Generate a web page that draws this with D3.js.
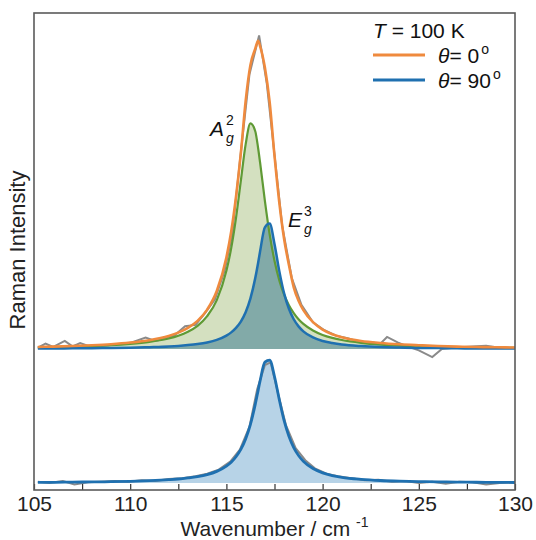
<!DOCTYPE html>
<html><head><meta charset="utf-8">
<script src="https://cdn.jsdelivr.net/npm/d3@7"></script>
<style>
body{margin:0;background:#fff;}
svg{display:block;font-family:"Liberation Sans",Arial,sans-serif;}
</style></head>
<body><svg id="c" width="536" height="540"></svg>
<script>
// wavenumber grid (cm^-1) for fitted curves
const wn = [105.2,106,107,108,109,110,111,112,112.5,113,113.5,114,114.5,115,115.25,115.5,115.75,116,116.25,116.5,116.65,116.75,117,117.25,117.5,117.75,118,118.25,118.5,118.75,119,119.5,120,120.5,121,122,123,124,125,126,127,128,129,130];
// theta = 0 : A_g^2 component fit
const fitA = [.012,.014,.017,.022,.028,.038,.053,.078,.099,.129,.173,.245,.365,.583,.753,.979,1.254,1.527,1.683,1.625,1.498,1.392,1.106,.854,.658,.512,.406,.327,.268,.222,.187,.138,.105,.083,.067,.046,.033,.025,.020,.016,.013,.011,.009,.008];
// theta = 0 : E_g^3 component fit
const fitE = [.004,.004,.005,.006,.008,.010,.014,.019,.023,.029,.037,.049,.068,.100,.124,.158,.205,.275,.378,.529,.644,.727,.908,.936,.784,.581,.415,.300,.222,.169,.132,.086,.060,.045,.034,.022,.015,.011,.008,.007,.005,.004,.004,.003];
// theta = 0 : total fit
const fitTotal = [.015,.018,.022,.028,.036,.048,.066,.097,.122,.158,.210,.294,.433,.683,.877,1.137,1.459,1.85,2.12,2.24,2.30,2.26,2.10,1.84,1.442,1.093,.821,.627,.46,.36,.29,.20,.145,.11,.088,.06,.045,.035,.028,.022,.018,.015,.013,.011];
// theta = 90 : E_g^3 fit
const fit90 = [.005,.005,.007,.008,.010,.013,.018,.025,.030,.038,.048,.063,.087,.126,.155,.196,.251,.329,.438,.587,.691,.761,.902,.917,.795,.621,.465,.348,.264,.205,.162,.108,.076,.056,.043,.028,.019,.014,.011,.009,.007,.006,.005,.004];
// raw spectra
const raw0X = [105.2,105.6,106.0,106.6,107.0,107.4,107.9,108.6,109.3,110.0,110.8,111.3,111.9,112.3,112.85,113.4,113.9,114.4,114.9,115.3,115.7,116.2,116.7,117.1,117.5,117.9,118.4,118.9,119.5,120.1,120.7,121.3,121.9,122.5,123.0,123.35,123.9,124.4,125.0,125.7,126.2,126.8,127.4,128.0,128.5,129.2,130];
const raw0Y = [.01,.04,.015,.06,.02,.045,.02,.025,.035,.045,.085,.06,.08,.10,.17,.18,.27,.37,.58,.85,1.40,2.05,2.34,1.98,1.45,.92,.53,.33,.20,.14,.10,.08,.055,.05,.04,.09,.05,.02,-.01,-.06,0,.01,.015,.02,.025,.01,.01];
const raw90X = [105.2,105.8,106.5,107.1,107.8,108.5,109.2,109.9,110.6,111.3,112,112.7,113.4,114.0,114.6,115.2,115.7,116.2,116.6,117.0,117.3,117.7,118.1,118.6,119.1,119.6,120.2,120.8,121.5,122.2,122.9,123.6,124.3,125.0,125.7,126.4,127.1,127.8,128.5,129.2,130];
const raw90Y = [.01,0,.015,-.01,.005,.01,.015,.01,.02,.015,.03,.035,.05,.07,.10,.16,.25,.42,.70,.88,.90,.66,.43,.26,.17,.11,.07,.05,.035,.02,.025,.01,.015,0,.01,-.005,.01,.005,-.01,0,.005];
const xTicks = [105,110,115,120,125,130];
const xMinor = [107.5,112.5,117.5,122.5,127.5];

const svg = d3.select("#c");
const L=34, R=515, T=13, B=490;
const x = d3.scaleLinear().domain([105,130]).range([L,R]);
const y = d3.scaleLinear().domain([-0.052,3.507]).range([B,T]);
const off0 = 1.0; // vertical offset of theta=0 spectrum

const C = {orange:"#ef8a3e", blue:"#1f70b0", green:"#5f9a35", gray:"#8a8a8a"};

svg.append("clipPath").attr("id","cp").append("rect").attr("x",L).attr("y",T).attr("width",R-L).attr("height",B-T);
const g = svg.append("g").attr("clip-path","url(#cp)");

const line = (xs, ys, off, curve) => d3.line().x((d,i)=>x(xs[i])).y((d,i)=>y(ys[i]+off)).curve(curve)(xs);
const area = (xs, ys, off) => d3.area().x((d,i)=>x(xs[i])).y0(y(off)).y1((d,i)=>y(ys[i]+off)).curve(d3.curveMonotoneX)(xs);

// top panel
g.append("path").attr("d",area(wn,fitA,off0)).attr("fill","rgba(120,160,60,0.32)");
g.append("path").attr("d",area(wn,fitE,off0)).attr("fill","rgba(31,105,140,0.45)");
g.append("path").attr("d",line(raw0X,raw0Y,off0,d3.curveLinear)).attr("fill","none").attr("stroke",C.gray).attr("stroke-width",2);
g.append("path").attr("d",line(wn,fitA,off0,d3.curveMonotoneX)).attr("fill","none").attr("stroke",C.green).attr("stroke-width",2.2);
g.append("path").attr("d",line(wn,fitE,off0,d3.curveMonotoneX)).attr("fill","none").attr("stroke",C.blue).attr("stroke-width",2.5);
g.append("path").attr("d",line(wn,fitTotal,off0,d3.curveMonotoneX)).attr("fill","none").attr("stroke",C.orange).attr("stroke-width",2.6);

// bottom panel
g.append("path").attr("d",area(wn,fit90,0)).attr("fill","rgba(31,119,180,0.32)");
g.append("path").attr("d",line(raw90X,raw90Y,0,d3.curveLinear)).attr("fill","none").attr("stroke",C.gray).attr("stroke-width",2);
g.append("path").attr("d",line(wn,fit90,0,d3.curveMonotoneX)).attr("fill","none").attr("stroke",C.blue).attr("stroke-width",2.8);

// axis
const ax = svg.append("g").attr("transform",`translate(0,${B})`)
  .call(d3.axisBottom(x).tickValues(xTicks).tickFormat(d3.format("d")).tickSizeInner(-6).tickSizeOuter(0).tickPadding(6));
ax.select(".domain").remove();
ax.selectAll(".tick line").attr("stroke","#333").attr("stroke-width",1.2);
ax.selectAll(".tick text").attr("font-size",21).attr("fill","#222").attr("font-family","Liberation Sans, Arial, sans-serif");
svg.append("g").attr("transform",`translate(0,${B})`)
  .call(d3.axisBottom(x).tickValues(xMinor).tickFormat("").tickSizeInner(-6).tickSizeOuter(0))
  .call(s=>{s.select(".domain").remove(); s.selectAll(".tick line").attr("stroke","#333").attr("stroke-width",1.2);});

svg.append("rect").attr("x",L).attr("y",T).attr("width",R-L).attr("height",B-T)
  .attr("fill","none").attr("stroke","#5a5a5a").attr("stroke-width",1.6);

// axis titles
const xt = svg.append("text").attr("x",(L+R)/2).attr("y",536).attr("text-anchor","middle").attr("font-size",21).attr("fill","#222");
xt.append("tspan").text("Wavenumber / cm ");
xt.append("tspan").attr("font-size",14).attr("dy",-9).text("-1");
svg.append("text").attr("transform","translate(25,250) rotate(-90)").attr("text-anchor","middle").attr("font-size",22).attr("fill","#222").text("Raman Intensity");

// legend
const lg = svg.append("g").attr("font-size",21).attr("fill","#111");
const t1 = lg.append("text").attr("x",373).attr("y",38);
t1.append("tspan").attr("font-style","italic").text("T");
t1.append("tspan").text(" = 100 K");
lg.append("line").attr("x1",373).attr("x2",425).attr("y1",55).attr("y2",55).attr("stroke",C.orange).attr("stroke-width",3);
lg.append("line").attr("x1",373).attr("x2",425).attr("y1",80).attr("y2",80).attr("stroke",C.blue).attr("stroke-width",3);
[["0",63],["90",88]].forEach(([v,yy])=>{
  const t = lg.append("text").attr("x",438).attr("y",yy);
  t.append("tspan").attr("font-style","italic").text("θ");
  t.append("tspan").text("= "+v);
  t.append("tspan").attr("font-size",14).attr("dy",-9).attr("dx",2).text("o");
});

// peak labels
function lab(xx,yy,base,sup,sub){
  const t = svg.append("text").attr("x",xx).attr("y",yy).attr("font-size",21).attr("fill","#111");
  t.append("tspan").attr("font-style","italic").text(base);
  svg.append("text").attr("x",xx+16).attr("y",yy-11).attr("font-size",14).attr("fill","#111").text(sup);
  svg.append("text").attr("x",xx+16).attr("y",yy+7).attr("font-size",14).attr("font-style","italic").attr("fill","#111").text(sub);
}
lab(210,136,"A","2","g");
lab(288,227,"E","3","g");
</script></body></html>
